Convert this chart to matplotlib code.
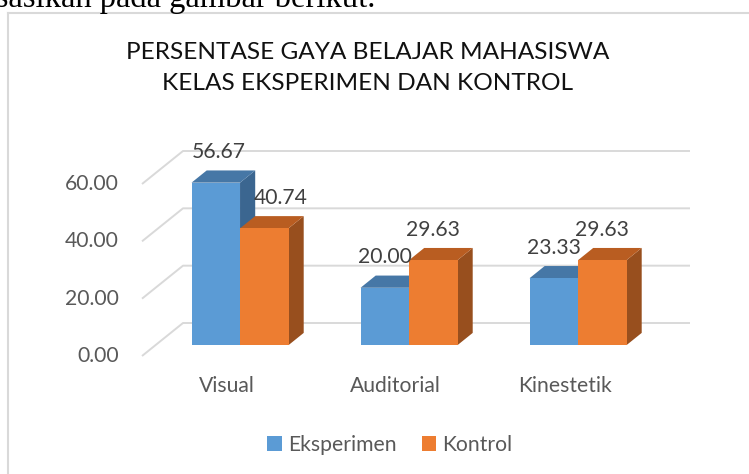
import numpy as np
import matplotlib
matplotlib.use("Agg")
import matplotlib.pyplot as plt
from matplotlib.patches import Polygon
from matplotlib.lines import Line2D

plt.rcParams['font.family'] = ['Lato', 'DejaVu Sans']

# ---------------- data ----------------
categories = ["Visual", "Auditorial", "Kinestetik"]
eksperimen = [56.67, 20.00, 23.33]
kontrol = [40.74, 29.63, 29.63]
series_names = ["Eksperimen", "Kontrol"]
yticks = [0, 20, 40, 60]
ytick_labels = ["0.00", "20.00", "40.00", "60.00"]
title_lines = ["PERSENTASE GAYA BELAJAR MAHASISWA", "KELAS EKSPERIMEN DAN KONTROL"]

# ---------------- layout ----------------
W, H = 749, 474
fig = plt.figure(figsize=(W / 100, H / 100), dpi=100)

# back wall of pseudo-3D plot in pixels
wall_left, wall_right = 183, 690
wall_y0, wall_y60 = 323, 151
ax = fig.add_axes([wall_left / W, (H - wall_y0) / H,
                   (wall_right - wall_left) / W, (wall_y0 - wall_y60) / H])
ax.set_xlim(-0.5, 2.5)
ax.set_ylim(0, 60)
ax.axis('off')

px_x = (wall_right - wall_left) / 3.0      # pixels per category unit
px_y = (wall_y0 - wall_y60) / 60.0          # pixels per value unit
DX = -41 / px_x                              # depth offset (front = t 1)
DY = -33 / px_y

def P(x, y, t):
    return (x + DX * t, y + DY * t)

grid_c = '#d9d9d9'
for v in yticks:
    xs = [-0.5 + DX, -0.5, 2.5]
    ys = [v + DY, v, v]
    ax.plot(xs, ys, color=grid_c, lw=1.4, clip_on=False, zorder=1,
            solid_capstyle='butt')

t_f, t_b = 0.67, 0.30
w = 0.287
x_idx = np.arange(len(categories))

styles = [
    dict(front='#5B9BD5', top='#4677A6', side='#3B6690'),
    dict(front='#ED7D31', top='#B95D21', side='#984F1E'),
]
handles = []
for j, vals in enumerate([eksperimen, kontrol]):
    st = styles[j]
    z = 3 + j
    x0s = x_idx - w + j * w
    b = ax.bar(x0s + DX * t_f, vals, width=w, bottom=DY * t_f, align='edge',
               color=st['front'], edgecolor='none', zorder=z + 0.1,
               clip_on=False, label=series_names[j])
    handles.append(b)
    for x0, h in zip(x0s, vals):
        x1 = x0 + w
        side = [P(x1, 0, t_f), P(x1, h, t_f), P(x1, h, t_b), P(x1, 0, t_b)]
        top = [P(x0, h, t_f), P(x1, h, t_f), P(x1, h, t_b), P(x0, h, t_b)]
        ax.add_patch(Polygon(side, closed=True, facecolor=st['side'],
                             edgecolor='none', zorder=z, clip_on=False))
        ax.add_patch(Polygon(top, closed=True, facecolor=st['top'],
                             edgecolor='none', zorder=z, clip_on=False))

# data labels
label_nudge_px = {(0, 0): 3, (0, 1): 16}
for j, vals in enumerate([eksperimen, kontrol]):
    for i, h in enumerate(vals):
        xc = i - w + j * w + w / 2 + DX * t_f + label_nudge_px.get((i, j), 0) / px_x
        yc = h + DY * t_f + 30.5 / px_y
        ax.text(xc, yc, f"{h:.2f}", ha='center', va='center', fontsize=15.2,
                color='#404040', zorder=10, clip_on=False)

# y tick labels (front plane)
for v, lab in zip(yticks, ytick_labels):
    ax.text(DX + (119 - wall_left) / px_x - 0.5 - DX, v + DY, lab, ha='right', va='center',
            fontsize=15.2, color='#595959', clip_on=False)

# category labels (front plane)
for i, c in enumerate(categories):
    ax.text(i + DX, (wall_y0 - 386) / px_y, c, ha='center', va='center',
            fontsize=15.2, color='#595959', clip_on=False)

# title
fig.text(367.5 / W, 1 - 52.5 / H, title_lines[0], ha='center', va='center',
         fontsize=17.6, color='#111111')
fig.text(367.5 / W, 1 - 83 / H, title_lines[1], ha='center', va='center',
         fontsize=17.6, color='#111111')

# legend
fig.legend(handles=handles, labels=series_names, loc='center',
           bbox_to_anchor=(390 / W, 1 - 445 / H), ncol=2, frameon=False,
           fontsize=15.2, handlelength=0.67, handleheight=0.67,
           handletextpad=0.3, columnspacing=1.2, labelcolor='#595959')

# chart border (partially cropped)
fig.add_artist(Line2D([8 / W, 8 / W], [0, 1 - 13 / H], transform=fig.transFigure,
                      color='#d9d9d9', lw=1.5))
fig.add_artist(Line2D([8 / W, 748 / W], [1 - 13 / H, 1 - 13 / H],
                      transform=fig.transFigure, color='#d9d9d9', lw=1.5))

# cropped document text at the top
fig.text(375 / W, 1 - 6.5 / H, "divisualisasikan pada gambar berikut.", ha='right',
         va='baseline', fontsize=23.5, family='Liberation Serif', color='black')

fig.savefig("out.png", dpi=100)
